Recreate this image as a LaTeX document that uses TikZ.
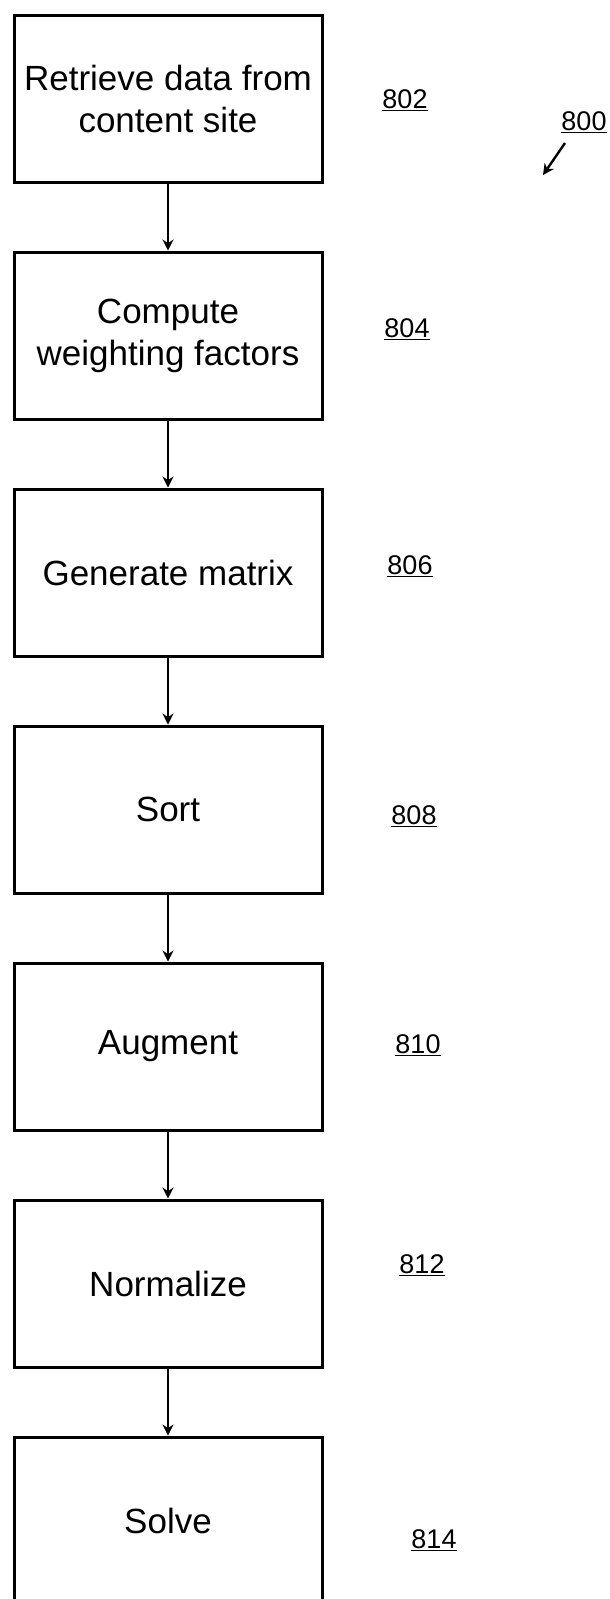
\documentclass[tikz,border=0pt]{standalone}
\usepackage{fontspec}
\setmainfont{Liberation Sans}
\usetikzlibrary{arrows.meta}
\begin{document}
\begin{tikzpicture}[x=1pt,y=-1pt,
  stepbox/.style={draw=black,line width=3pt,minimum width=308pt,minimum height=167pt,inner sep=0pt,align=center,font=\fontsize{35}{42}\selectfont},
  reflabel/.style={inner sep=0pt,font=\fontsize{27}{30}\selectfont},
  flow/.style={line width=2.4pt,-{Stealth[length=11pt,width=11pt]}}]
\useasboundingbox (0,0) rectangle (610,1599);
\clip (0,0) rectangle (610,1599);
\fill[white] (0,0) rectangle (610,1599);
\node[stepbox] (b1) at (168,98.5) {Retrieve data from\\content site};
\node[stepbox] (b2) at (168,335.5) {Compute\\weighting factors};
\node[stepbox] (b3) at (168,572.5) {Generate matrix};
\node[stepbox] (b4) at (168,809.5) {Sort};
\node[stepbox] (b5) at (168,1046.5) {Augment};
\node[stepbox] (b6) at (168,1283.5) {Normalize};
\node[stepbox] (b7) at (168,1520.5) {Solve};
\draw[flow] (b1.south) -- (b2.north);
\draw[flow] (b2.south) -- (b3.north);
\draw[flow] (b3.south) -- (b4.north);
\draw[flow] (b4.south) -- (b5.north);
\draw[flow] (b5.south) -- (b6.north);
\draw[flow] (b6.south) -- (b7.north);
\node[reflabel] (l802) at (405,100) {\underline{802}};
\node[reflabel] (l804) at (407,329) {\underline{804}};
\node[reflabel] (l806) at (410,566) {\underline{806}};
\node[reflabel] (l808) at (414,816) {\underline{808}};
\node[reflabel] (l810) at (418,1045) {\underline{810}};
\node[reflabel] (l812) at (422,1265) {\underline{812}};
\node[reflabel] (l814) at (434,1540) {\underline{814}};
\node[reflabel] (l800) at (584,122) {\underline{800}};
\coordinate (p800s) at (565,143);
\coordinate (p800e) at (543,175);
\draw[flow] (p800s) -- (p800e);
\end{tikzpicture}
\end{document}
